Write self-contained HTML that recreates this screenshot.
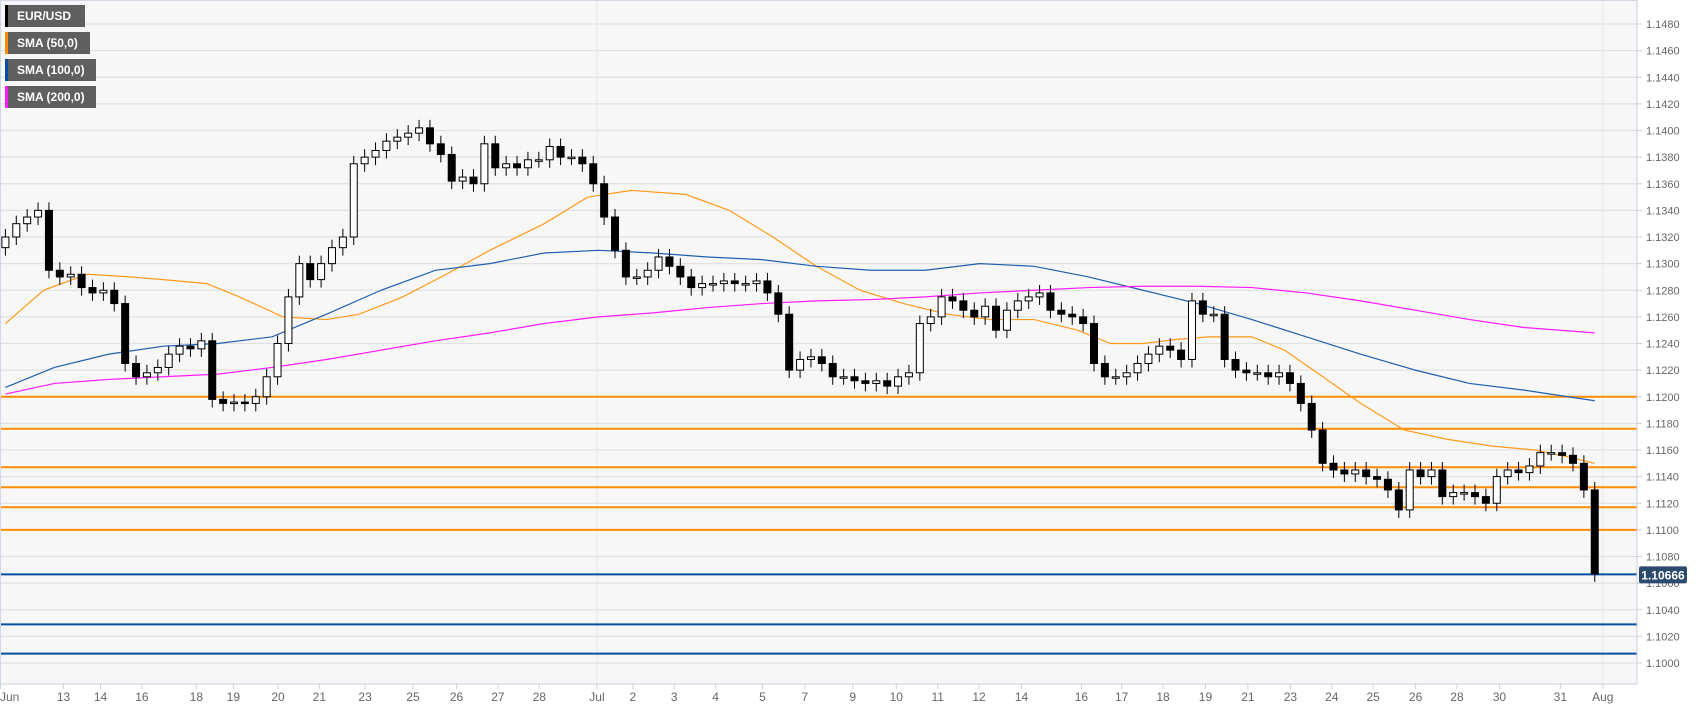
<!DOCTYPE html>
<html><head><meta charset="utf-8">
<style>
html,body{margin:0;padding:0;background:#fff;}
body{width:1707px;height:712px;overflow:hidden;font-family:"Liberation Sans",sans-serif;}
svg{display:block}
</style></head>
<body>
<svg id="chart" width="1707" height="712" xmlns="http://www.w3.org/2000/svg">
<rect x="0" y="0" width="1637" height="684" fill="#f7f7f7"/>
<g id="grid"></g><g id="levels"></g><g id="smas"></g><g id="candles"></g><g id="axes"></g>
<g id="legend"></g>
</svg>
<script>
const closes=[1.1320,1.1330,1.1335,1.1340,1.1295,1.1290,1.1292,1.1282,1.1278,1.1280,1.1270,1.1225,1.1215,1.1218,1.1222,1.1232,1.1238,1.1236,1.1242,1.1198,1.1195,1.1196,1.1195,1.1200,1.1215,1.1240,1.1275,1.1300,1.1288,1.1300,1.1312,1.1320,1.1375,1.1380,1.1385,1.1392,1.1395,1.1398,1.1402,1.1390,1.1382,1.1362,1.1365,1.1360,1.1390,1.1372,1.1375,1.1372,1.1378,1.1378,1.1388,1.1380,1.1380,1.1375,1.1360,1.1335,1.1310,1.1290,1.1290,1.1295,1.1305,1.1298,1.1290,1.1282,1.1285,1.1285,1.1287,1.1285,1.1285,1.1287,1.1278,1.1262,1.1220,1.1228,1.1230,1.1225,1.1215,1.1215,1.1212,1.1210,1.1212,1.1208,1.1215,1.1218,1.1255,1.1260,1.1275,1.1272,1.1265,1.1260,1.1268,1.1250,1.1265,1.1272,1.1275,1.1278,1.1265,1.1262,1.1260,1.1255,1.1225,1.1215,1.1215,1.1218,1.1225,1.1232,1.1238,1.1235,1.1228,1.1272,1.1262,1.1262,1.1228,1.1220,1.1218,1.1218,1.1215,1.1218,1.1210,1.1195,1.1175,1.1150,1.1145,1.1142,1.1145,1.1140,1.1138,1.1130,1.1115,1.1145,1.1140,1.1145,1.1125,1.1128,1.1128,1.1125,1.1120,1.1140,1.1145,1.1143,1.1148,1.1158,1.1158,1.1156,1.1150,1.1130,1.1067];
const openFirst=1.1312;
const sma50Idx=[0,3.5,7.5,11.5,14.5,18.5,21.5,25.5,29.5,32.5,36.5,40.5,44.5,49.5,53.5,57.5,62.5,66.5,70.5,74.5,78.5,82.5,86.5,90.5,94.5,98.5,101.5,104.5,107.5,110.5,114.5,117.5,120.5,124.5,128.5,132.5,136.5,140.5,143.5,146];
const sma50=[1.1255,1.1280,1.1292,1.1290,1.1288,1.1285,1.1275,1.1260,1.1258,1.1262,1.1275,1.1292,1.1310,1.1330,1.1350,1.1355,1.1352,1.1340,1.1320,1.1298,1.1280,1.1270,1.1262,1.1258,1.1258,1.1250,1.1240,1.1240,1.1243,1.1245,1.1245,1.1235,1.1218,1.1195,1.1175,1.1168,1.1163,1.1160,1.1155,1.1150];
const sma100Idx=[0,4.5,9.5,14.5,19.5,24.5,29.5,34.5,39.5,44.5,49.5,54.5,59.5,64.5,69.5,74.5,79.5,84.5,89.5,94.5,99.5,104.5,109.5,114.5,119.5,124.5,129.5,134.5,139.5,146];
const sma100=[1.1207,1.1222,1.1232,1.1238,1.1240,1.1245,1.1262,1.1280,1.1295,1.1300,1.1308,1.1310,1.1308,1.1305,1.1303,1.1298,1.1295,1.1295,1.1300,1.1298,1.1290,1.1280,1.1270,1.1258,1.1245,1.1232,1.1220,1.1210,1.1205,1.1197];
const sma200=[1.1202,1.1210,1.1213,1.1215,1.1217,1.1222,1.1228,1.1235,1.1242,1.1248,1.1255,1.1260,1.1263,1.1267,1.1270,1.1272,1.1273,1.1275,1.1278,1.1280,1.1282,1.1283,1.1283,1.1282,1.1278,1.1272,1.1265,1.1258,1.1252,1.1248];
const orangeLevels=[1.1200,1.1176,1.1147,1.1132,1.1117,1.1100];
const blueLevels=[1.1029,1.1007];
const lastPrice=1.10666;
const priceTicks=[1.148,1.146,1.144,1.142,1.140,1.138,1.136,1.134,1.132,1.130,1.128,1.126,1.124,1.122,1.120,1.118,1.116,1.114,1.112,1.110,1.108,1.106,1.104,1.102,1.100];
const dateLabels=["Jun","13","14","16","18","19","20","21","23","25","26","27","28","Jul","2","3","4","5","7","9","10","11","12","14","16","17","18","19","21","23","24","25","26","28","30","31","Aug"];
const dateIdx=[0,5.8,9.2,13,18,21.4,25.5,29.3,33.5,37.9,41.9,45.7,49.5,54.8,58.1,61.9,65.7,70,73.9,78.3,82.3,86.1,89.9,93.8,99.3,103,106.8,110.7,114.6,118.5,122.3,126.1,130,133.8,137.7,143.3,147.2];

const NS="http://www.w3.org/2000/svg";
const X0=5.4,STEP=10.886;
function x(i){return X0+i*STEP;}
function y(p){return 24+(1.148-p)/0.002*26.625;}
function el(tag,attrs,parent){const e=document.createElementNS(NS,tag);for(const k in attrs)e.setAttribute(k,attrs[k]);parent.appendChild(e);return e;}
const grid=document.getElementById('grid'),lv=document.getElementById('levels'),sm=document.getElementById('smas'),cg=document.getElementById('candles'),ax=document.getElementById('axes'),lg=document.getElementById('legend');

priceTicks.forEach(p=>{
 const l=el('line',{x1:0,x2:1637,y1:y(p),y2:y(p),stroke:'#e2e2e2','stroke-width':1.2},grid);
 
 
 el('line',{x1:1637,x2:1642,y1:y(p),y2:y(p),stroke:'#c8d0dc'},ax);
 const t=el('text',{x:1646,y:y(p)+4,'font-size':11,fill:'#666'},ax);t.textContent=p.toFixed(4);
 
 
});
[dateIdx[13],dateIdx[36]].forEach(i=>{el('line',{x1:x(i)-5,x2:x(i)-5,y1:0,y2:684,stroke:'#e6e6e6'},grid);});
el('line',{x1:0,x2:1637,y1:0.5,y2:0.5,stroke:'#d0d8e6'},ax);
el('line',{x1:0.5,x2:0.5,y1:0,y2:684,stroke:'#d0d8e6'},ax);
el('line',{x1:1637,x2:1637,y1:0,y2:684,stroke:'#c8d0dc'},ax);
el('line',{x1:0,x2:1637,y1:684,y2:684,stroke:'#c8d0dc'},ax);
dateLabels.forEach((d,k)=>{
 const xx=x(dateIdx[k])-5;
 el('line',{x1:xx,x2:xx,y1:684,y2:689,stroke:'#c8d0dc'},ax);
 const t=el('text',{x:k===0?0:xx,y:701,'font-size':12,fill:'#666','text-anchor':k===0?'start':'middle'},ax);t.textContent=d;
 
 
});

orangeLevels.forEach(p=>{
 const l=el('line',{x1:0,x2:1637,y1:y(p),y2:y(p),stroke:'#ff8c00','stroke-width':2},lv);
 
 
});
blueLevels.forEach(p=>{
 const l=el('line',{x1:0,x2:1637,y1:y(p),y2:y(p),stroke:'#0a4ea3','stroke-width':2},lv);
 
 
});
const lp=el('line',{x1:0,x2:1637,y1:y(lastPrice),y2:y(lastPrice),stroke:'#0a4ea3','stroke-width':2},lv);



function poly(idx,vals,color,name){
 const pts=vals.map((v,k)=>x(idx[k])+','+y(v)).join(' ');
 const p=el('polyline',{points:pts,fill:'none',stroke:color,'stroke-width':1.2},sm);
 
 
}
poly(sma50Idx,sma50,'#ff9a1a','sma-50-line');
poly(sma100Idx,sma100,'#1f5fb0','sma-100-line');
poly(sma100Idx,sma200,'#ff1aff','sma-200-line');

closes.forEach((c,i)=>{
 const o=i===0?openFirst:closes[i-1];
 const hi=Math.max(o,c)+0.0006,lo=Math.min(o,c)-0.0006;
 const cx=x(i);
 const g=el('g',{},cg);
 
 
 el('line',{x1:cx,x2:cx,y1:y(hi),y2:y(lo),stroke:'#000','stroke-width':1},g);
 const top=y(Math.max(o,c)),h=Math.max(1.5,y(Math.min(o,c))-top);
 el('rect',{x:cx-3.5,y:top,width:7,height:h,fill:c>=o?'#fff':'#000',stroke:'#000','stroke-width':1},g);
});

const pl=el('g',{},ax);


el('rect',{x:1639,y:y(lastPrice)-8,width:48,height:17,fill:'#2c4a6e',rx:2},pl);
const pt=el('text',{x:1663,y:y(lastPrice)+5,'font-size':12,'font-weight':'bold',fill:'#fff','text-anchor':'middle'},pl);pt.textContent=lastPrice.toFixed(5);

const legendItems=[["EUR/USD","#000",80,"legend-eurusd"],["SMA (50,0)","#ff8c00",85,"legend-sma-50"],["SMA (100,0)","#0a4ea3",91,"legend-sma-100"],["SMA (200,0)","#ff1aff",91,"legend-sma-200"]];
legendItems.forEach((it,k)=>{
 const g=el('g',{},lg);
 
 
 const yy=5+k*27;
 el('rect',{x:5,y:yy,width:it[2],height:22,fill:'#5f5f5f'},g);
 el('rect',{x:5,y:yy,width:3,height:22,fill:it[1]},g);
 const t=el('text',{x:17,y:yy+15,'font-size':12,'font-weight':'bold',fill:'#fff'},g);t.textContent=it[0];
});
</script>
</body></html>
